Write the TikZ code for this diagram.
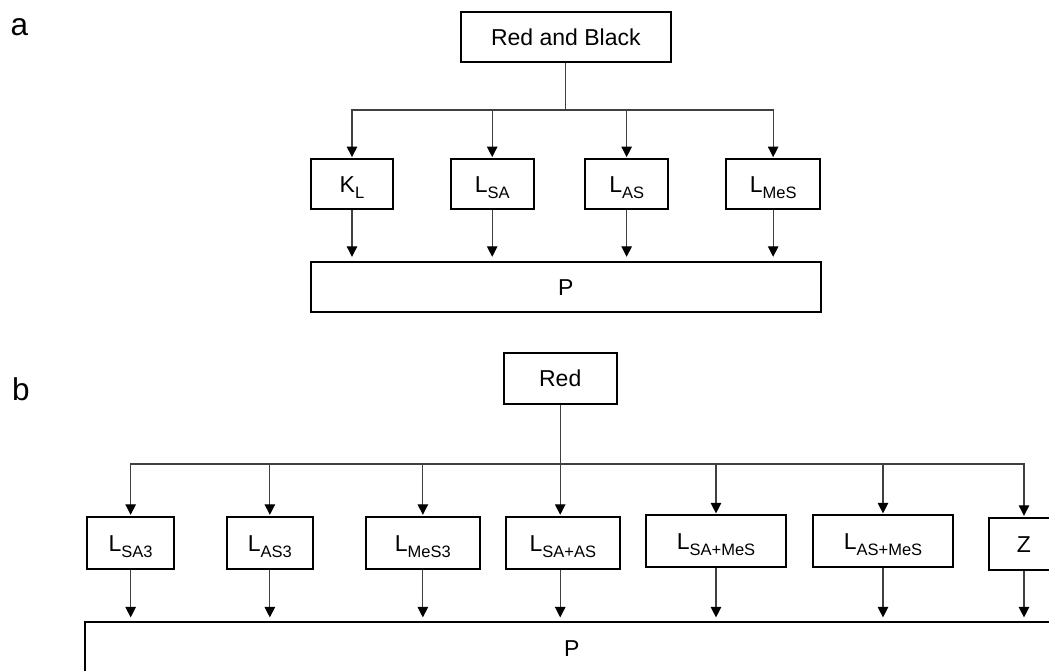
\documentclass[tikz,border=0pt]{standalone}
\usepackage{fontspec}
\setmainfont{Liberation Sans}
\usetikzlibrary{arrows.meta}
\newcommand\dsub[1]{\raisebox{-6pt}{\fontsize{16.5}{18}\selectfont #1}}
\begin{document}
\begin{tikzpicture}[x=1pt,y=-1pt,
  box/.style={draw=black, line width=1.8pt, inner sep=0pt, text height=20pt, text depth=3pt, font={\fontsize{23}{27}\selectfont}},
  conn/.style={draw=black!75, line width=1.1pt},
  arr/.style={conn, -{Triangle[width=10.5pt,length=10.5pt,color=black]}, shorten >=1pt},
  arrp/.style={arr, shorten >=4pt},
  lbl/.style={font={\fontsize{31.5}{36}\selectfont}, anchor=base west, inner sep=0pt}]
\useasboundingbox (0,0) rectangle (1049,670);
\clip (0,0) rectangle (1049,670);

% ---------- panel a ----------
\node[lbl] (la) at (10.5,35) {a};
\node[box, minimum width=210.3pt, minimum height=49.7pt] (rb) at (565.85,37.15) {Red and Black};
\node[box, minimum width=82.6pt, minimum height=50pt] (kl) at (352,184) {K\dsub{L}};
\node[box, minimum width=83pt, minimum height=50pt] (lsa) at (492.2,184) {L\dsub{SA}};
\node[box, minimum width=83.3pt, minimum height=50pt] (las) at (626.65,184) {L\dsub{AS}};
\node[box, minimum width=93.7pt, minimum height=50pt] (lmes) at (773.15,184) {L\dsub{MeS}};
\node[box, minimum width=510.3pt, minimum height=50pt] (pa) at (565.85,286.7) {P};
\coordinate (ja) at (565.85,110);

\draw[conn] (rb.south) -- (ja);
\foreach \n in {kl,lsa,las,lmes}{
  \draw[arr] (ja) -| (\n.north);
  \draw[arrp] (\n.south) -- (\n.south |- pa.north);
}

% ---------- panel b ----------
\node[lbl] (lb) at (12,400) {b};
\node[box, minimum width=113pt, minimum height=51.3pt] (red) at (560.2,378.35) {Red};
\node[box, minimum width=86.7pt, minimum height=52pt] (lsa3) at (130.65,542.7) {L\dsub{SA3}};
\node[box, minimum width=86.3pt, minimum height=52pt] (las3) at (269.85,542.7) {L\dsub{AS3}};
\node[box, minimum width=113.7pt, minimum height=52pt] (lmes3) at (422.85,542.7) {L\dsub{MeS3}};
\node[box, minimum width=113.7pt, minimum height=52pt] (lsaas) at (562.85,542.7) {L\dsub{SA+AS}};
\node[box, minimum width=140pt, minimum height=52pt] (lsames) at (716,541.3) {L\dsub{SA+MeS}};
\node[box, minimum width=139.4pt, minimum height=52pt] (lasmes) at (883,541.3) {L\dsub{AS+MeS}};
\node[box, minimum width=70pt, minimum height=52pt] (z) at (1024,543.7) {Z};
\node[box, minimum width=973.4pt, minimum height=52pt] (pb) at (571.7,648.3) {P};
\coordinate (jb) at (560.2,464);

\draw[arr] (red.south) -- (red.south |- lsaas.north);
\draw[arrp] (lsaas.south -| red.south) -- (red.south |- pb.north);
\foreach \n in {lsa3,las3,lmes3,lsames,lasmes,z}{
  \draw[arr] (jb) -| (\n.north);
  \draw[arrp] (\n.south) -- (\n.south |- pb.north);
}
\end{tikzpicture}
\end{document}
